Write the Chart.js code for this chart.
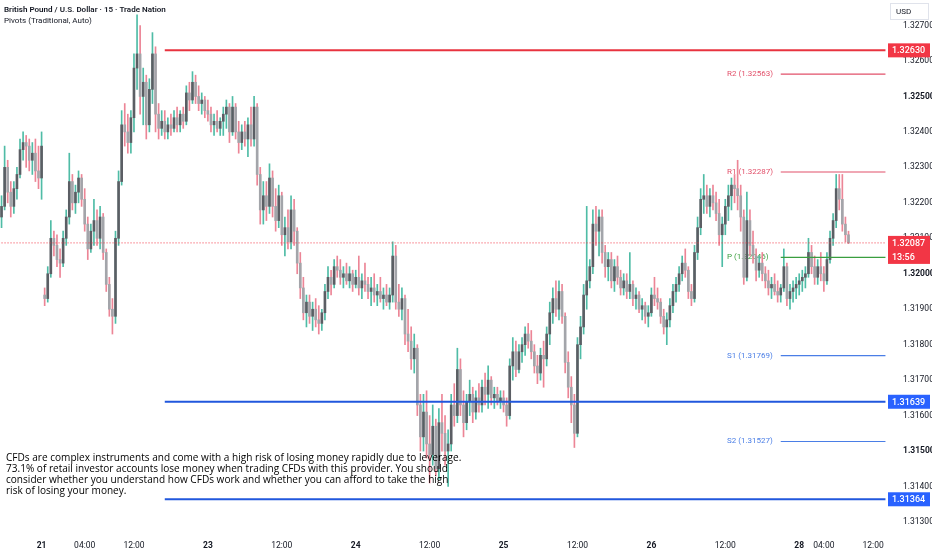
<!DOCTYPE html>
<html>
<head>
<meta charset="utf-8">
<script src="https://cdn.jsdelivr.net/npm/chart.js@4.4.1/dist/chart.umd.min.js"></script>
<style>
  html, body { margin: 0; padding: 0; background: #ffffff; }
  #wrap { width: 932px; height: 550px; }
</style>
</head>
<body>
<div id="wrap"><canvas id="chart" width="932" height="550"></canvas></div>
<script>
// GBPUSD, 30 min candles (index 0 = first bar on the left)
const opens = [
  1.3216,1.3219,1.3230,1.3223,1.3219,1.3224,1.3228,1.3235,1.3237,1.3236,
  1.3232,1.3234,1.3229,1.3227,1.3194,1.3193,1.3200,1.3210,1.3208,1.3204,
  1.3203,1.3210,1.3216,1.3226,1.3220,1.3223,1.3227,1.3221,1.3214,1.3207,
  1.3212,1.3215,1.3210,1.3216,1.3206,1.3197,1.3190,1.3188,1.3210,1.3226,
  1.3242,1.3240,1.3237,1.3244,1.3258,1.3262,1.3250,1.3254,1.3242,1.3252,
  1.3262,1.3245,1.3241,1.3243,1.3240,1.3242,1.3241,1.3244,1.3242,1.3245,
  1.3243,1.3251,1.3249,1.3254,1.3250,1.3248,1.3249,1.3246,1.3245,1.3242,
  1.3243,1.3241,1.3243,1.3245,1.3247,1.3240,1.3247,1.3240,1.3237,1.3240,
  1.3238,1.3242,1.3238,1.3247,1.3228,1.3218,1.3222,1.3219,1.3227,1.3219,
  1.3215,1.3222,1.3211,1.3213,1.3209,1.3218,1.3212,1.3203,1.3196,1.3189,
  1.3192,1.3188,1.3190,1.3187,1.3186,1.3189,1.3195,1.3199,1.3197,1.3202,
  1.3201,1.3199,1.3200,1.3198,1.3200,1.3197,1.3199,1.3196,1.3198,1.3197,
  1.3195,1.3196,1.3194,1.3195,1.3193,1.3194,1.3192,1.3194,1.3205,1.3192,
  1.3190,1.3193,1.3183,1.3181,1.3176,1.3179,1.3163,1.3154,1.3161,1.3152,
  1.3149,1.3157,1.3145,1.3158,1.3155,1.3150,1.3152,1.3163,1.3160,1.3173,
  1.3163,1.3158,1.3164,1.3166,1.3161,1.3165,1.3163,1.3168,1.3166,1.3170,
  1.3165,1.3166,1.3164,1.3165,1.3163,1.3160,1.3174,1.3178,1.3173,1.3178,
  1.3180,1.3183,1.3181,1.3178,1.3174,1.3172,1.3177,1.3176,1.3183,1.3189,
  1.3193,1.3190,1.3195,1.3188,1.3175,1.3168,1.3163,1.3155,1.3180,1.3185,
  1.3194,1.3198,1.3202,1.3214,1.3212,1.3216,1.3206,1.3202,1.3204,1.3198,
  1.3202,1.3199,1.3196,1.3198,1.3195,1.3197,1.3193,1.3194,1.3190,1.3191,
  1.3188,1.3189,1.3194,1.3193,1.3192,1.3188,1.3185,1.3187,1.3191,1.3195,
  1.3197,1.3200,1.3203,1.3201,1.3195,1.3193,1.3206,1.3213,1.3221,1.3222,
  1.3219,1.3222,1.3220,1.3217,1.3211,1.3214,1.3219,1.3222,1.3225,1.3224,
  1.3222,1.3216,1.3199,1.3215,1.3208,1.3205,1.3201,1.3203,1.3200,1.3198,
  1.3196,1.3197,1.3195,1.3194,1.3196,1.3202,1.3193,1.3195,1.3196,1.3197,
  1.3198,1.3199,1.3200,1.3206,1.3202,1.3199,1.3202,1.3200,1.3198,1.3204,
  1.3210,1.3215,1.3224,1.3221,1.3214,1.3211
];
const highs = [
  1.3222,1.3236,1.3232,1.3226,1.3226,1.3230,1.3238,1.3240,1.3239,1.3238,
  1.3237,1.3238,1.3236,1.3240,1.3196,1.3202,1.3215,1.3212,1.3211,1.3207,
  1.3212,1.3218,1.3234,1.3228,1.3225,1.3229,1.3228,1.3224,1.3216,1.3214,
  1.3221,1.3218,1.3219,1.3217,1.3207,1.3199,1.3193,1.3212,1.3229,1.3246,
  1.3248,1.3245,1.3246,1.3262,1.3273,1.3270,1.3258,1.3256,1.3255,1.3268,
  1.3264,1.3248,1.3246,1.3246,1.3244,1.3245,1.3246,1.3247,1.3246,1.3247,
  1.3253,1.3254,1.3257,1.3256,1.3253,1.3251,1.3250,1.3249,1.3247,1.3245,
  1.3246,1.3244,1.3247,1.3249,1.3248,1.3250,1.3248,1.3243,1.3242,1.3243,
  1.3244,1.3247,1.3250,1.3248,1.3230,1.3226,1.3226,1.3231,1.3229,1.3224,
  1.3225,1.3223,1.3216,1.3218,1.3222,1.3221,1.3213,1.3206,1.3199,1.3194,
  1.3194,1.3192,1.3193,1.3191,1.3190,1.3197,1.3202,1.3201,1.3204,1.3205,
  1.3204,1.3202,1.3203,1.3202,1.3201,1.3201,1.3205,1.3200,1.3203,1.3199,
  1.3199,1.3200,1.3197,1.3199,1.3196,1.3197,1.3196,1.3209,1.3208,1.3197,
  1.3196,1.3194,1.3190,1.3185,1.3183,1.3180,1.3166,1.3166,1.3167,1.3160,
  1.3163,1.3159,1.3162,1.3166,1.3160,1.3156,1.3166,1.3169,1.3179,1.3176,
  1.3167,1.3166,1.3170,1.3168,1.3167,1.3169,1.3170,1.3172,1.3174,1.3171,
  1.3168,1.3168,1.3167,1.3167,1.3165,1.3176,1.3182,1.3181,1.3180,1.3182,
  1.3185,1.3186,1.3184,1.3180,1.3177,1.3179,1.3181,1.3185,1.3192,1.3196,
  1.3198,1.3198,1.3197,1.3189,1.3178,1.3171,1.3166,1.3182,1.3188,1.3197,
  1.3219,1.3204,1.3218,1.3219,1.3218,1.3218,1.3208,1.3206,1.3206,1.3204,
  1.3205,1.3201,1.3200,1.3200,1.3206,1.3198,1.3196,1.3195,1.3193,1.3192,
  1.3191,1.3196,1.3199,1.3196,1.3193,1.3190,1.3189,1.3193,1.3197,1.3199,
  1.3202,1.3205,1.3207,1.3202,1.3197,1.3208,1.3216,1.3224,1.3228,1.3225,
  1.3224,1.3225,1.3223,1.3221,1.3216,1.3221,1.3225,1.3227,1.3228,1.3232,
  1.3225,1.3218,1.3223,1.3218,1.3212,1.3207,1.3205,1.3206,1.3202,1.3201,
  1.3199,1.3200,1.3198,1.3197,1.3207,1.3203,1.3197,1.3198,1.3199,1.3200,
  1.3201,1.3202,1.3210,1.3208,1.3205,1.3204,1.3206,1.3202,1.3206,1.3212,
  1.3217,1.3228,1.3228,1.3228,1.3216,1.3212
];
const lows = [
  1.3213,1.3218,1.3220,1.3216,1.3217,1.3221,1.3227,1.3232,1.3230,1.3229,
  1.3228,1.3226,1.3224,1.3221,1.3191,1.3192,1.3199,1.3205,1.3202,1.3199,
  1.3202,1.3208,1.3214,1.3218,1.3217,1.3220,1.3219,1.3212,1.3204,1.3206,
  1.3208,1.3208,1.3207,1.3204,1.3195,1.3188,1.3183,1.3186,1.3208,1.3225,
  1.3236,1.3234,1.3234,1.3240,1.3252,1.3245,1.3242,1.3238,1.3240,1.3248,
  1.3240,1.3238,1.3239,1.3238,1.3238,1.3239,1.3240,1.3240,1.3240,1.3241,
  1.3242,1.3246,1.3248,1.3248,1.3246,1.3245,1.3244,1.3243,1.3240,1.3239,
  1.3240,1.3239,1.3239,1.3241,1.3237,1.3239,1.3238,1.3234,1.3235,1.3236,
  1.3233,1.3236,1.3236,1.3225,1.3214,1.3214,1.3215,1.3217,1.3216,1.3212,
  1.3213,1.3208,1.3205,1.3207,1.3207,1.3208,1.3200,1.3193,1.3187,1.3185,
  1.3186,1.3184,1.3185,1.3183,1.3184,1.3187,1.3193,1.3194,1.3196,1.3199,
  1.3197,1.3196,1.3197,1.3196,1.3195,1.3196,1.3194,1.3193,1.3195,1.3193,
  1.3191,1.3192,1.3191,1.3192,1.3190,1.3191,1.3190,1.3192,1.3190,1.3188,
  1.3187,1.3180,1.3178,1.3173,1.3172,1.3160,1.3150,1.3150,1.3148,1.3141,
  1.3146,1.3143,1.3142,1.3150,1.3146,1.3140,1.3150,1.3157,1.3158,1.3160,
  1.3154,1.3156,1.3160,1.3158,1.3159,1.3161,1.3161,1.3163,1.3162,1.3163,
  1.3162,1.3163,1.3162,1.3161,1.3157,1.3159,1.3170,1.3171,1.3172,1.3175,
  1.3177,1.3179,1.3176,1.3172,1.3169,1.3170,1.3168,1.3174,1.3180,1.3186,
  1.3188,1.3187,1.3186,1.3172,1.3165,1.3158,1.3151,1.3154,1.3176,1.3183,
  1.3190,1.3196,1.3200,1.3208,1.3205,1.3203,1.3199,1.3198,1.3196,1.3195,
  1.3197,1.3194,1.3194,1.3193,1.3193,1.3191,1.3190,1.3189,1.3187,1.3186,
  1.3185,1.3188,1.3191,1.3190,1.3186,1.3183,1.3180,1.3185,1.3189,1.3192,
  1.3195,1.3198,1.3199,1.3193,1.3191,1.3192,1.3204,1.3211,1.3217,1.3217,
  1.3216,1.3218,1.3215,1.3208,1.3202,1.3211,1.3215,1.3218,1.3220,1.3218,
  1.3212,1.3197,1.3198,1.3205,1.3203,1.3198,1.3199,1.3198,1.3196,1.3194,
  1.3193,1.3194,1.3192,1.3192,1.3195,1.3191,1.3190,1.3192,1.3193,1.3194,
  1.3195,1.3196,1.3199,1.3200,1.3197,1.3197,1.3198,1.3195,1.3197,1.3203,
  1.3208,1.3213,1.3218,1.3212,1.3209,1.32085
];
const closes = [
  1.3219,1.3230,1.3223,1.3219,1.3224,1.3228,1.3235,1.3237,1.3236,1.3232,
  1.3234,1.3229,1.3227,1.3236,1.3193,1.3200,1.3210,1.3208,1.3204,1.3203,
  1.3210,1.3216,1.3226,1.3220,1.3223,1.3227,1.3221,1.3214,1.3207,1.3212,
  1.3215,1.3210,1.3216,1.3206,1.3197,1.3190,1.3188,1.3210,1.3226,1.3242,
  1.3240,1.3237,1.3244,1.3258,1.3262,1.3250,1.3254,1.3242,1.3252,1.3262,
  1.3245,1.3241,1.3243,1.3240,1.3242,1.3241,1.3244,1.3242,1.3245,1.3243,
  1.3251,1.3249,1.3254,1.3250,1.3248,1.3249,1.3246,1.3245,1.3242,1.3243,
  1.3241,1.3243,1.3245,1.3247,1.3240,1.3247,1.3240,1.3237,1.3240,1.3238,
  1.3242,1.3238,1.3247,1.3228,1.3218,1.3222,1.3219,1.3227,1.3219,1.3215,
  1.3222,1.3211,1.3213,1.3209,1.3218,1.3212,1.3203,1.3196,1.3189,1.3192,
  1.3188,1.3190,1.3187,1.3186,1.3189,1.3195,1.3199,1.3197,1.3202,1.3201,
  1.3199,1.3200,1.3198,1.3200,1.3197,1.3199,1.3196,1.3198,1.3197,1.3195,
  1.3196,1.3194,1.3195,1.3193,1.3194,1.3192,1.3194,1.3205,1.3192,1.3190,
  1.3193,1.3183,1.3181,1.3176,1.3179,1.3163,1.3154,1.3161,1.3152,1.3149,
  1.3157,1.3145,1.3158,1.3155,1.3150,1.3152,1.3163,1.3160,1.3173,1.3163,
  1.3158,1.3164,1.3166,1.3161,1.3165,1.3163,1.3168,1.3166,1.3170,1.3165,
  1.3166,1.3164,1.3165,1.3163,1.3160,1.3174,1.3178,1.3173,1.3178,1.3180,
  1.3183,1.3181,1.3178,1.3174,1.3172,1.3177,1.3176,1.3183,1.3189,1.3193,
  1.3190,1.3195,1.3188,1.3175,1.3168,1.3163,1.3155,1.3180,1.3185,1.3194,
  1.3198,1.3202,1.3214,1.3212,1.3216,1.3206,1.3202,1.3204,1.3198,1.3202,
  1.3199,1.3196,1.3198,1.3195,1.3197,1.3193,1.3194,1.3190,1.3191,1.3188,
  1.3189,1.3194,1.3193,1.3192,1.3188,1.3185,1.3187,1.3191,1.3195,1.3197,
  1.3200,1.3203,1.3201,1.3195,1.3193,1.3206,1.3213,1.3221,1.3222,1.3219,
  1.3222,1.3220,1.3217,1.3211,1.3214,1.3219,1.3222,1.3225,1.3224,1.3222,
  1.3216,1.3199,1.3215,1.3208,1.3205,1.3201,1.3203,1.3200,1.3198,1.3196,
  1.3197,1.3195,1.3194,1.3196,1.3202,1.3193,1.3195,1.3196,1.3197,1.3198,
  1.3199,1.3200,1.3206,1.3202,1.3199,1.3202,1.3200,1.3198,1.3204,1.3210,
  1.3215,1.3224,1.3221,1.3214,1.3211,1.32087
];

// bar slots on the time axis (empty ones on the right are the future margin)
const slotCount = 288;
const tickIndex = [13, 27, 43, 67, 91, 115, 139, 163, 187, 211, 235, 259, 267, 283];
const tickText = ['21', '04:00', '12:00', '23', '12:00', '24', '12:00', '25', '12:00', '26', '12:00', '28', '04:00', '12:00'];

const priceTicks = [1.313, 1.314, 1.315, 1.316, 1.317, 1.318, 1.319, 1.320, 1.321, 1.322, 1.323, 1.324, 1.325, 1.326, 1.327];
const boldPriceTicks = [1.315, 1.320, 1.325];

// drawn levels
const redLevel = 1.32630;
const blueLevels = [1.31639, 1.31364];
const levelStart = 53;
const lastPrice = 1.32087;
const countdown = '13:56';

// pivots (Traditional, Auto)
const pivotNames = ['R2', 'R1', 'P', 'S1', 'S2'];
const pivotValues = [1.32563, 1.32287, 1.32046, 1.31769, 1.31527];
const pivotColors = ['#e2506a', '#e2506a', '#3a9e3f', '#4a7ee6', '#4a7ee6'];
const pivotStart = 253;

const disclaimer = [
  'CFDs are complex instruments and come with a high risk of losing money rapidly due to leverage.',
  '73.1% of retail investor accounts lose money when trading CFDs with this provider. You should',
  'consider whether you understand how CFDs work and whether you can afford to take the high',
  'risk of losing your money.'
];

const slots = Array.from({ length: slotCount }, (_, i) => i);
const isUp = closes.map((c, i) => c >= opens[i]);
const wickData = closes.map((c, i) => [lows[i], highs[i]]);
const bodyData = closes.map((c, i) => [Math.min(opens[i], c), Math.max(opens[i], c)]);

function levelLine(price, from, color, width, dash, order) {
  return {
    type: 'line',
    data: [{ x: from, y: price }, { x: slotCount - 1, y: price }],
    borderColor: color,
    borderWidth: width,
    borderDash: dash || [],
    pointRadius: 0,
    order: order
  };
}

const datasets = [
  {
    type: 'bar',
    data: wickData,
    backgroundColor: isUp.map(u => u ? '#4fbca6' : '#ec8596'),
    barThickness: 1,
    grouped: false,
    order: 6
  },
  {
    type: 'bar',
    data: bodyData,
    backgroundColor: isUp.map(u => u ? '#5b5e64' : '#a3a5aa'),
    barThickness: 2,
    minBarLength: 1,
    grouped: false,
    order: 5
  },
  levelLine(lastPrice, 0, '#f23645', 1, [1, 2], 3),
  levelLine(redLevel, levelStart, '#e8333f', 2, [], 2),
  levelLine(blueLevels[0], levelStart, '#2157dd', 2, [], 2),
  levelLine(blueLevels[1], levelStart, '#2157dd', 2, [], 2)
];
pivotValues.forEach((v, i) => datasets.push(levelLine(v, pivotStart, pivotColors[i], 1.2, [], 4)));

const FONT = 'Roboto, "Noto Sans", sans-serif';

function fitSize(ctx, text, width, weight, family) {
  ctx.font = weight + ' 10px ' + family;
  return 10 * width / ctx.measureText(text).width;
}

function priceBox(ctx, y, color, lines) {
  const h = 14;
  ctx.fillStyle = color;
  ctx.fillRect(888, y - h / 2, 42, h * lines.length);
  ctx.fillStyle = '#ffffff';
  ctx.font = '500 9px ' + FONT;
  ctx.textBaseline = 'middle';
  ctx.textAlign = 'left';
  lines.forEach((t, i) => ctx.fillText(t, 892, y + i * h + 0.5));
}

const overlay = {
  id: 'overlay',
  beforeDatasetsDraw(chart) {
    const ctx = chart.ctx;
    const y = chart.scales.y;
    ctx.save();
    ctx.font = '8px ' + FONT;
    ctx.textBaseline = 'middle';
    ctx.textAlign = 'left';
    pivotValues.forEach((v, i) => {
      ctx.fillStyle = pivotColors[i];
      ctx.fillText(pivotNames[i] + ' (' + v.toFixed(5) + ')', 727, y.getPixelForValue(v));
    });
    ctx.restore();
  },
  afterDraw(chart) {
    const ctx = chart.ctx;
    const y = chart.scales.y;
    ctx.save();

    // currency box
    ctx.strokeStyle = '#e0e3eb';
    ctx.lineWidth = 1;
    ctx.fillStyle = '#ffffff';
    ctx.fillRect(890.5, 3.5, 38, 16);
    ctx.strokeRect(890.5, 3.5, 38, 16);
    ctx.fillStyle = '#131722';
    ctx.font = '8px ' + FONT;
    ctx.textBaseline = 'middle';
    ctx.textAlign = 'left';
    ctx.fillText('USD', 896, 11.5);

    priceBox(ctx, y.getPixelForValue(redLevel), '#f23645', [redLevel.toFixed(5)]);
    blueLevels.forEach(v => priceBox(ctx, y.getPixelForValue(v), '#2962ff', [v.toFixed(5)]));
    priceBox(ctx, y.getPixelForValue(lastPrice), '#f23645', [lastPrice.toFixed(5), countdown]);

    // header
    const title = 'British Pound / U.S. Dollar \u00b7 15 \u00b7 Trade Nation';
    const sub = 'Pivots (Traditional, Auto)';
    ctx.fillStyle = '#131722';
    ctx.textBaseline = 'middle';
    ctx.font = '600 ' + fitSize(ctx, title, 162, '600', FONT) + 'px ' + FONT;
    ctx.fillText(title, 4, 10);
    ctx.font = fitSize(ctx, sub, 88, '400', FONT) + 'px ' + FONT;
    ctx.fillText(sub, 4, 21);

    // disclaimer
    const family = '"Open Sans", sans-serif';
    const size = fitSize(ctx, disclaimer[0], 456, '400', family);
    ctx.font = size + 'px ' + family;
    ctx.fillStyle = '#000000';
    disclaimer.forEach((t, i) => ctx.fillText(t, 6, 458 + i * 11));

    ctx.restore();
  }
};

new Chart(document.getElementById('chart'), {
  data: { labels: slots, datasets: datasets },
  options: {
    responsive: false,
    animation: false,
    layout: { padding: 0 },
    plugins: { legend: { display: false }, tooltip: { enabled: false } },
    scales: {
      x: {
        type: 'category',
        offset: true,
        grid: { display: false },
        border: { display: false },
        afterBuildTicks: s => { s.ticks = tickIndex.map(v => ({ value: v })); },
        afterFit: s => { s.height = 22; s.paddingLeft = 0; s.paddingRight = 0; },
        ticks: {
          autoSkip: false,
          maxRotation: 0,
          padding: 5,
          color: '#131722',
          font: c => ({ family: FONT, size: 8.5, weight: tickText[c.index] && tickText[c.index].indexOf(':') < 0 ? 'bold' : 'normal' }),
          callback: (v, i) => tickText[i]
        }
      },
      y: {
        position: 'right',
        min: 1.31283,
        max: 1.32772,
        grid: { display: false },
        border: { display: false },
        afterBuildTicks: s => { s.ticks = priceTicks.map(v => ({ value: v })); },
        afterFit: s => { s.width = 45; s.paddingTop = 0; s.paddingBottom = 0; },
        ticks: {
          padding: 8,
          color: '#131722',
          font: c => ({ family: FONT, size: 8.5, weight: boldPriceTicks.some(b => c.tick && Math.abs(c.tick.value - b) < 1e-7) ? 'bold' : 'normal' }),
          callback: v => v.toFixed(5)
        }
      }
    }
  },
  plugins: [overlay]
});
</script>
</body>
</html>
